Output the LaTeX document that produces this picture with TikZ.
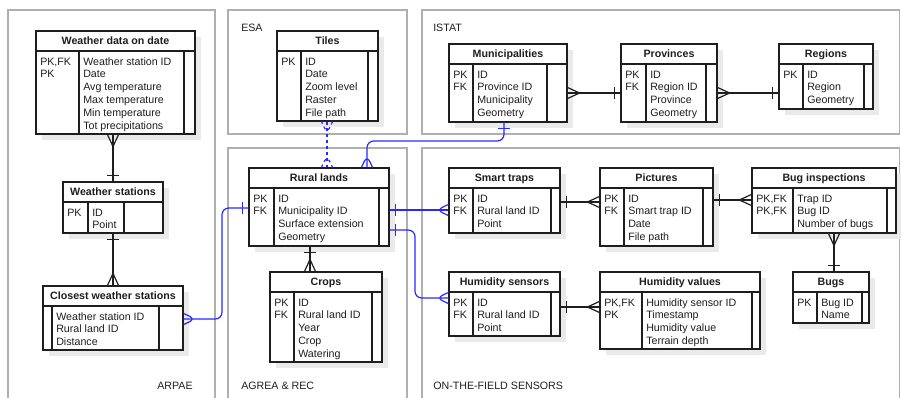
\documentclass[tikz,border=0pt]{standalone}
\usepackage{fontspec}
\setmainfont{Liberation Sans}
\usetikzlibrary{fit,calc}
\definecolor{lnk}{RGB}{40,40,255}
\definecolor{shd}{RGB}{234,234,234}
\definecolor{pnl}{RGB}{175,175,175}
\definecolor{ink}{RGB}{30,30,30}
\tikzset{
  box/.style={draw=ink, line width=0.9pt, inner sep=0pt},
  sep/.style={draw=ink, line width=0.9pt},
  ttl/.style={anchor=base, inner sep=0pt, font=\fontsize{8}{9.6}\selectfont\bfseries, text=ink},
  cell/.style={anchor=base west, inner sep=0pt, font=\fontsize{8}{9.6}\selectfont, text=ink},
  panel/.style={draw=pnl, line width=0.9pt},
  plabel/.style={anchor=base west, inner sep=0pt, font=\fontsize{8}{9.6}\selectfont, text=ink},
  rel/.style={draw=ink, line width=0.9pt},
  brel/.style={draw=lnk, line width=0.9pt, rounded corners=5},
  dots/.style={dash pattern=on 2.3pt off 2.3pt},
  crow/.pic={\draw[pic actions] (0,-5.5) -- (12,0) -- (0,5.5);},
  onebar/.pic={\draw[pic actions] (6,-6) -- (6,6);},
}
\newcommand\ertbl[8]{%
  \fill[shd] (#2+6,#3+6) rectangle (#4+6,#5+6);
  \node[box, fill=white, fit={(#2,#3) (#4,#5)}] (#1) {};
  \draw[sep] (#2,#3+20) -- (#4,#3+20);
  \draw[sep] (#6,#3+20) -- (#6,#5);
  \draw[sep] (#7,#3+20) -- (#7,#5);
  \node[ttl] (#1-t) at ({(#2+#4)/2},#3+13.5) {#8};
  \coordinate (#1-k) at (#2+4,#3+34);
  \coordinate (#1-a) at (#6+4,#3+34);
}
\newcommand\ercol[1]{\begin{tabular}[t]{@{}l@{}}#1\end{tabular}}
\newcommand\ertxt[3]{%
  \node[cell] (#1-keys) at (#1-k) {\ercol{#2}};
  \node[cell] (#1-attrs) at (#1-a) {\ercol{#3}};
}
\begin{document}
\begin{tikzpicture}[x=0.75pt,y=-0.75pt]
\useasboundingbox (0,0) rectangle (901,397);
\clip (0,0) rectangle (901,397);
% panels
\draw[panel] (8,10) rectangle (215,410);
\draw[panel] (228,10) rectangle (407,134);
\draw[panel] (422,10) rectangle (899.5,134);
\draw[panel] (228,148) rectangle (407,410);
\draw[panel] (422,148) rectangle (899.5,410);
\node[plabel] (lab-arpae) at (157,389) {ARPAE};
\node[plabel] (lab-esa) at (241,31) {ESA};
\node[plabel] (lab-istat) at (433,31) {ISTAT};
\node[plabel] (lab-agrea) at (241,389) {AGREA \& REC};
\node[plabel] (lab-sens) at (433,389) {ON-THE-FIELD SENSORS};
% tables
\ertbl{wdd}{36}{31}{195}{134}{79}{184}{Weather data on date}
\ertxt{wdd}{PK,FK\\PK}{Weather station ID\\Date\\Avg temperature\\Max temperature\\Min temperature\\Tot precipitations}
\ertbl{ws}{63}{182}{163}{233}{88}{124}{Weather stations}
\ertxt{ws}{PK}{ID\\Point}
\ertbl{cws}{43}{286}{183}{350}{52}{159}{Closest weather stations}
\ertxt{cws}{}{Weather station ID\\Rural land ID\\Distance}
\ertbl{tiles}{277}{31}{378}{121}{301}{368}{Tiles}
\ertxt{tiles}{PK}{ID\\Date\\Zoom level\\Raster\\File path}
\ertbl{rl}{249}{168}{389}{246}{274}{379}{Rural lands}
\ertxt{rl}{PK\\FK}{ID\\Municipality ID\\Surface extension\\Geometry}
\ertbl{crops}{270}{272}{382}{362}{294}{372}{Crops}
\ertxt{crops}{PK\\FK}{ID\\Rural land ID\\Year\\Crop\\Watering}
\ertbl{muni}{449}{44}{567}{122}{473}{547}{Municipalities}
\ertxt{muni}{PK\\FK}{ID\\Province ID\\Municipality\\Geometry}
\ertbl{prov}{621}{44}{717}{122}{646}{706}{Provinces}
\ertxt{prov}{PK\\FK}{ID\\Region ID\\Province\\Geometry}
\ertbl{reg}{779}{44}{873}{109}{803}{864}{Regions}
\ertxt{reg}{PK}{ID\\Region\\Geometry}
\ertbl{st}{449}{168}{560}{233}{473}{551}{Smart traps}
\ertxt{st}{PK\\FK}{ID\\Rural land ID\\Point}
\ertbl{pics}{600}{168}{713}{246}{624}{703}{Pictures}
\ertxt{pics}{PK\\FK}{ID\\Smart trap ID\\Date\\File path}
\ertbl{bi}{752}{168}{896}{233}{793}{887}{Bug inspections}
\ertxt{bi}{PK,FK\\PK,FK}{Trap ID\\Bug ID\\Number of bugs}
\ertbl{bugs}{793}{272}{869}{323}{817}{862}{Bugs}
\ertxt{bugs}{PK}{Bug ID\\Name}
\ertbl{hs}{449}{272}{560}{336}{473}{551}{Humidity sensors}
\ertxt{hs}{PK\\FK}{ID\\Rural land ID\\Point}
\ertbl{hv}{600}{272}{760}{349}{642}{752}{Humidity values}
\ertxt{hv}{PK,FK\\PK}{Humidity sensor ID\\Timestamp\\Humidity value\\Terrain depth}
% connectors: black
\draw[rel] (ws.north |- wdd.south) -- (ws.north);
\pic[rel, rotate=-90] at (ws.north |- wdd.south) {crow};
\pic[rel, rotate=90] at (ws.north) {onebar};
\draw[rel] (ws.south) -- (ws.south |- cws.north);
\pic[rel, rotate=-90] at (ws.south) {onebar};
\pic[rel, rotate=90] at (ws.south |- cws.north) {crow};
\draw[rel] (310,0 |- rl.south) -- (310,0 |- crops.north);
\pic[rel, rotate=-90] at (310,0 |- rl.south) {onebar};
\pic[rel, rotate=90] at (310,0 |- crops.north) {crow};
\draw[rel] (muni.east |- 0,93) -- (prov.west |- 0,93);
\pic[rel] at (muni.east |- 0,93) {crow};
\pic[rel, rotate=180] at (prov.west |- 0,93) {onebar};
\draw[rel] (prov.east |- 0,93) -- (reg.west |- 0,93);
\pic[rel] at (prov.east |- 0,93) {crow};
\pic[rel, rotate=180] at (reg.west |- 0,93) {onebar};
\draw[rel] (st.east |- 0,202) -- (pics.west |- 0,202);
\pic[rel] at (st.east |- 0,202) {onebar};
\pic[rel, rotate=180] at (pics.west |- 0,202) {crow};
\draw[rel] (pics.east |- 0,200) -- (bi.west |- 0,200);
\pic[rel] at (pics.east |- 0,200) {onebar};
\pic[rel, rotate=180] at (bi.west |- 0,200) {crow};
\draw[rel] (hs.east |- 0,307) -- (hv.west |- 0,307);
\pic[rel] at (hs.east |- 0,307) {onebar};
\pic[rel, rotate=180] at (hv.west |- 0,307) {crow};
\draw[rel] (834,0 |- bi.south) -- (834,0 |- bugs.north);
\pic[rel, rotate=-90] at (834,0 |- bi.south) {crow};
\pic[rel, rotate=90] at (834,0 |- bugs.north) {onebar};
% connectors: blue
\draw[brel] (cws.east |- 0,319) -- (222,319) -- (222,208) -- (rl.west |- 0,208);
\pic[brel] at (cws.east |- 0,319) {crow};
\pic[brel, rotate=180] at (rl.west |- 0,208) {onebar};
\draw[brel, dots] (327,0 |- tiles.south) -- (327,0 |- rl.north);
\pic[brel, dots, rotate=-90] at (327,0 |- tiles.south) {crow};
\pic[brel, dots, rotate=90] at (327,0 |- rl.north) {crow};
\draw[brel] (504,0 |- muni.south) -- (504,141) -- (367,141) -- (367,0 |- rl.north);
\pic[brel, rotate=-90] at (504,0 |- muni.south) {onebar};
\pic[brel, rotate=90] at (367,0 |- rl.north) {crow};
\draw[brel] (rl.east |- 0,210) -- (st.west |- 0,210);
\pic[brel] at (rl.east |- 0,210) {onebar};
\pic[brel, rotate=180] at (st.west |- 0,210) {crow};
\draw[brel] (rl.east |- 0,230) -- (415,230) -- (415,298) -- (hs.west |- 0,298);
\pic[brel] at (rl.east |- 0,230) {onebar};
\pic[brel, rotate=180] at (hs.west |- 0,298) {crow};
\end{tikzpicture}
\end{document}
